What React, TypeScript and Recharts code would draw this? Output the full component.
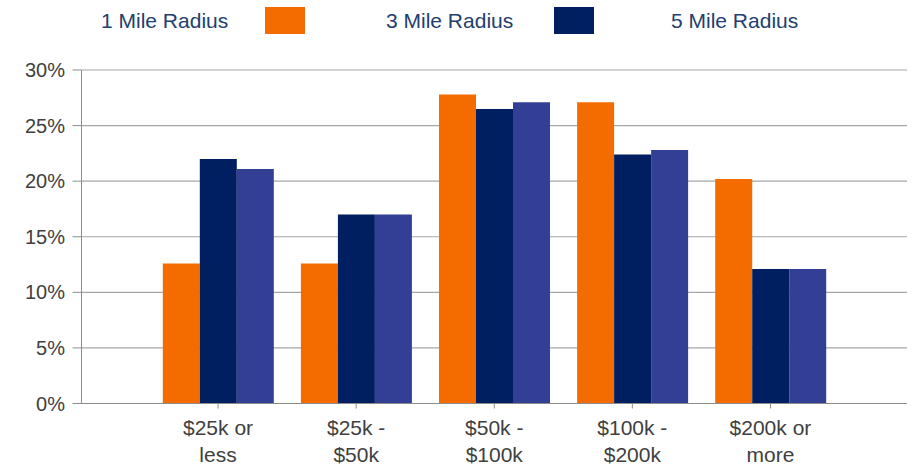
import React from "react";
import { Bar, BarChart, CartesianGrid, XAxis, YAxis } from "recharts";

const categories = ["$25k or less", "$25k - $50k", "$50k - $100k", "$100k - $200k", "$200k or more"];
const categoryLines = [
  ["$25k or", "less"],
  ["$25k -", "$50k"],
  ["$50k -", "$100k"],
  ["$100k -", "$200k"],
  ["$200k or", "more"],
];
const seriesNames = ["1 Mile Radius", "3 Mile Radius", "5 Mile Radius"];
const oneMile = [12.6, 12.6, 27.8, 27.1, 20.2];
const threeMile = [22.0, 17.0, 26.5, 22.4, 12.1];
const fiveMile = [21.1, 17.0, 27.1, 22.8, 12.1];
const yTicks = [0, 5, 10, 15, 20, 25, 30];

const colors = ["#F46B00", "#001F60", "#333F95"];
const keys = ["oneMile", "threeMile", "fiveMile"];
const font = "'Liberation Sans', Arial, sans-serif";

const data = categories.map((name, i) => ({
  name,
  lines: categoryLines[i],
  oneMile: oneMile[i],
  threeMile: threeMile[i],
  fiveMile: fiveMile[i],
}));

function CategoryTick({ x, y, index }: any) {
  const lines = categoryLines[index] || [];
  return (
    <text x={x} y={y} textAnchor="middle" fill="#404040" fontSize={21} fontFamily={font}>
      {lines.map((l, i) => (
        <tspan key={i} x={x} dy={i === 0 ? 24 : 27}>
          {l}
        </tspan>
      ))}
    </text>
  );
}

// legend in the source draws each swatch after the label, the last one has none
const legendTextLeft = [101, 386, 671];
const legendSwatchLeft = [265, 554];

export default function App() {
  return (
    <div style={{ position: "absolute", left: 0, top: 0, width: 917, height: 467, background: "#fff" }}>
      {seriesNames.map((n, i) => (
        <React.Fragment key={n}>
          <span
            style={{
              position: "absolute",
              left: legendTextLeft[i],
              top: 7,
              lineHeight: "27px",
              fontSize: 21,
              fontFamily: font,
              color: "#22406E",
              whiteSpace: "nowrap",
            }}
          >
            {n}
          </span>
          {legendSwatchLeft[i] !== undefined && (
            <span
              style={{
                position: "absolute",
                left: legendSwatchLeft[i],
                top: 7,
                width: 40,
                height: 27,
                background: colors[i],
              }}
            />
          )}
        </React.Fragment>
      ))}
      <div style={{ position: "absolute", left: 0, top: 0 }}>
        <BarChart
          width={917}
          height={467}
          data={data}
          margin={{ top: 70, right: 10, bottom: 0, left: 0 }}
          barCategoryGap="10%"
          barGap={0}
        >
          <CartesianGrid vertical={false} stroke="#A6A6A6" strokeWidth={1.2} />
          <XAxis
            dataKey="name"
            padding={{ left: 67.5, right: 67.5 }}
            height={63.5}
            tickSize={5}
            tickMargin={2}
            stroke="#8C8C8C"
            tick={<CategoryTick />}
            interval={0}
          />
          <YAxis
            domain={[0, 30]}
            ticks={yTicks}
            width={81.5}
            tickSize={9}
            tickMargin={7.5}
            stroke="#8C8C8C"
            tickFormatter={(v: number) => `${v}%`}
            tick={{ fill: "#404040", fontSize: 20, fontFamily: font }}
          />
          {keys.map((k, i) => (
            <Bar key={k} dataKey={k} name={seriesNames[i]} fill={colors[i]} isAnimationActive={false} />
          ))}
        </BarChart>
      </div>
    </div>
  );
}
